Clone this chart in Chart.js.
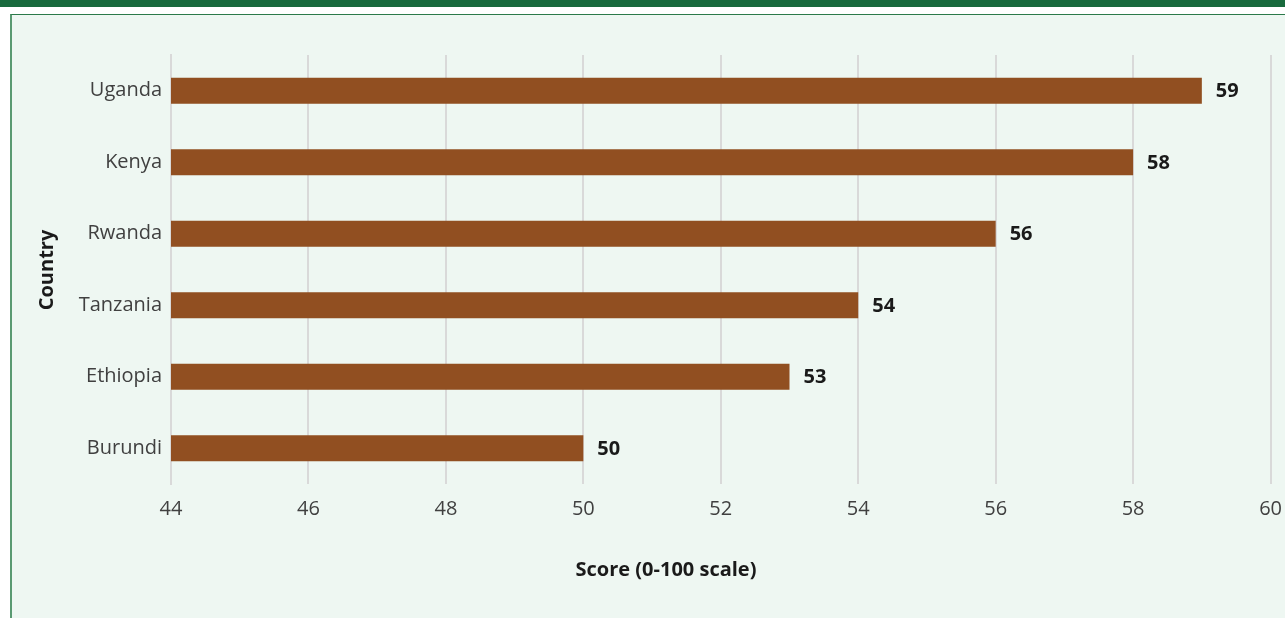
<!DOCTYPE html>
<html>
<head>
<meta charset="utf-8">
<script src="https://cdn.jsdelivr.net/npm/chart.js@4/dist/chart.umd.min.js"></script>
<style>
  body { margin: 0; background: #ffffff; overflow: hidden; }
  #band { position: absolute; left: 0; top: 0; width: 1285px; height: 7px; background: #186a3d; }
  #panel {
    position: absolute; left: 10px; top: 14px; width: 1300px; height: 620px;
    background: #eef7f2; border-top: 1px solid #2b7a4a; border-left: 2px solid #5a9a72;
  }
  #wrap { position: absolute; left: 0; top: 0; width: 1285px; height: 618px; overflow: hidden; }
</style>
</head>
<body>
<div id="band"></div>
<div id="panel"></div>
<div id="wrap"><canvas id="chart" width="1295" height="618"></canvas></div>
<script>
// chart data
const countries = ["Uganda", "Kenya", "Rwanda", "Tanzania", "Ethiopia", "Burundi"];
const scores = [59, 58, 56, 54, 53, 50];
const xTicks = [44, 46, 48, 50, 52, 54, 56, 58, 60];

const labelFont = "'Open Sans', 'Noto Sans', sans-serif";

// draws the bold value next to each bar
const valueLabels = {
  id: "valueLabels",
  afterDatasetsDraw(chart) {
    const ctx = chart.ctx;
    const meta = chart.getDatasetMeta(0);
    ctx.save();
    ctx.font = "bold 20px " + labelFont;
    ctx.fillStyle = "#1a1a1a";
    ctx.textAlign = "left";
    ctx.textBaseline = "middle";
    meta.data.forEach((bar, i) => {
      ctx.fillText(String(scores[i]), bar.x + 14, bar.y + 1);
    });
    ctx.restore();
  },
};

// axis titles placed like the original
const axisTitles = {
  id: "axisTitles",
  afterDraw(chart) {
    const ctx = chart.ctx;
    ctx.save();
    ctx.font = "bold 20px " + labelFont;
    ctx.fillStyle = "#1a1a1a";
    ctx.textAlign = "center";
    ctx.textBaseline = "middle";
    ctx.fillText("Score (0-100 scale)", 666, 570);
    ctx.translate(47, 270);
    ctx.rotate(-Math.PI / 2);
    ctx.fillText("Country", 0, 0);
    ctx.restore();
  },
};

new Chart(document.getElementById("chart").getContext("2d"), {
  type: "bar",
  data: {
    labels: countries,
    datasets: [
      {
        data: scores,
        backgroundColor: "#914f21",
        borderWidth: 0,
        categoryPercentage: 1,
        barPercentage: 0.365,
      },
    ],
  },
  options: {
    indexAxis: "y",
    responsive: false,
    animation: false,
    layout: { padding: { left: 0, top: 55, right: 13, bottom: 0 } },
    plugins: { legend: { display: false }, tooltip: { enabled: false } },
    scales: {
      x: {
        min: 44,
        max: 60,
        afterBuildTicks(axis) {
          axis.ticks = xTicks.map((v) => ({ value: v }));
        },
        afterFit(axis) {
          axis.height = 134;
        },
        grid: { color: "#d9d9d9", lineWidth: 2, drawTicks: false },
        border: { display: false },
        ticks: { color: "#404040", font: { family: labelFont, size: 20 }, padding: 13 },
      },
      y: {
        afterFit(axis) {
          axis.width = 171;
        },
        grid: { display: false, drawTicks: false },
        border: { color: "#d9d9d9", width: 2 },
        ticks: { color: "#404040", font: { family: labelFont, size: 20 }, padding: 9 },
      },
    },
  },
  plugins: [valueLabels, axisTitles],
});
</script>
</body>
</html>
